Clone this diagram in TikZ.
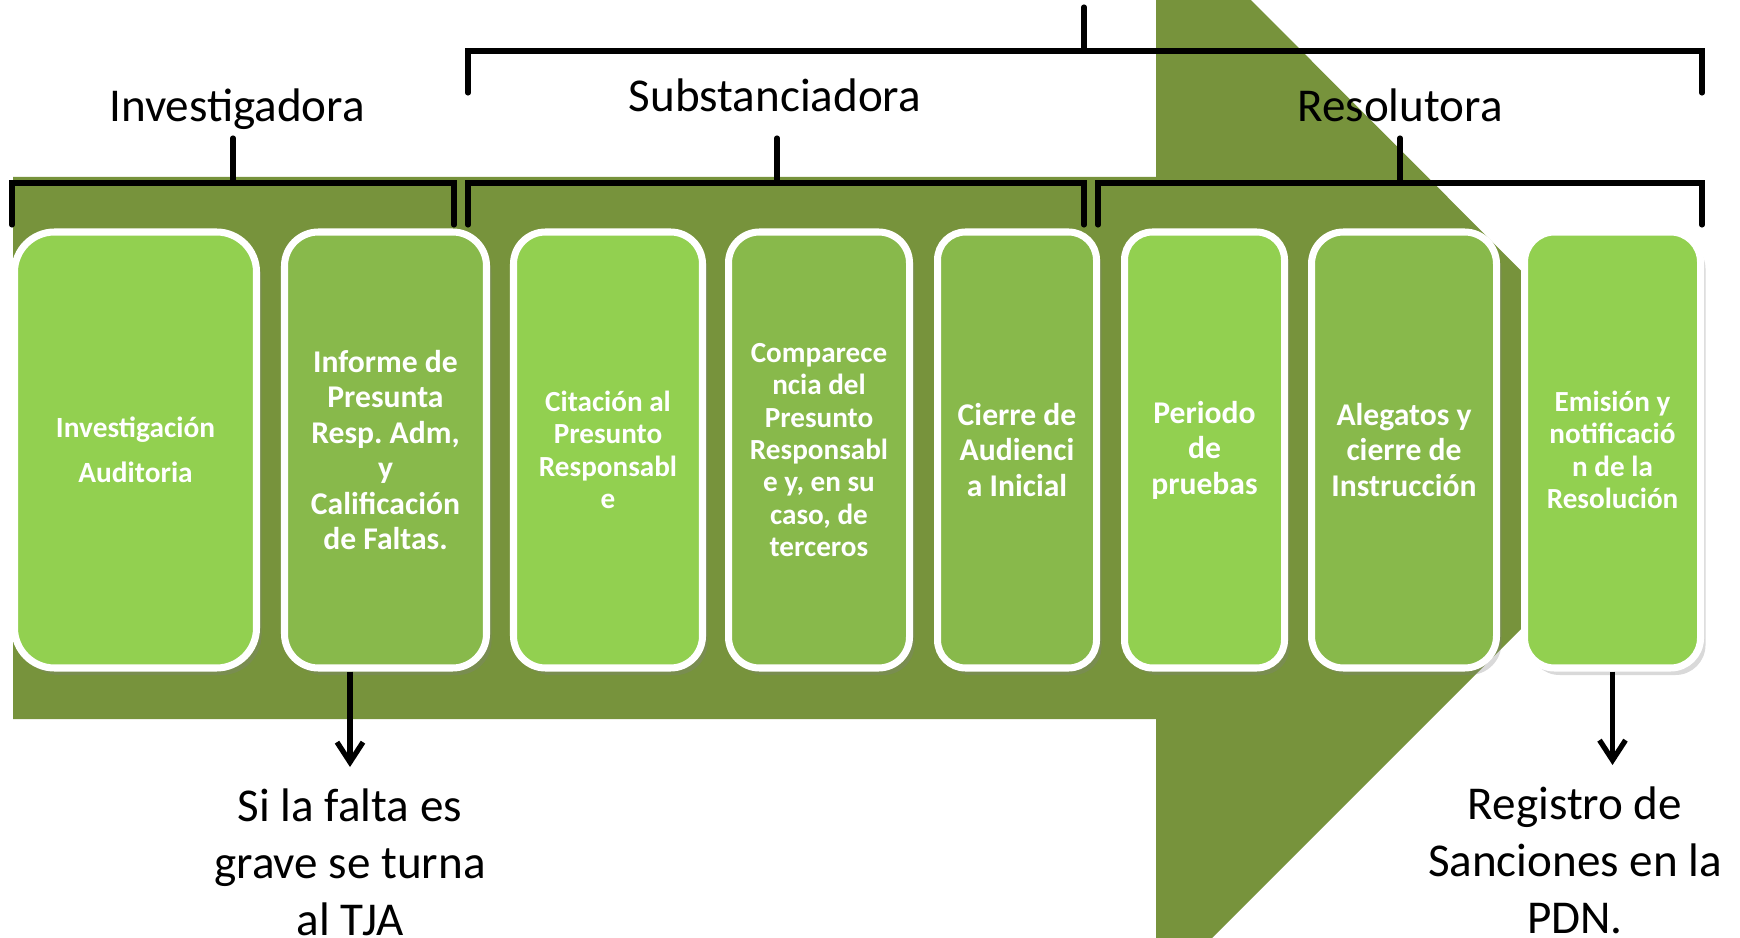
\documentclass[tikz,border=0pt]{standalone}
\usepackage{fontspec}
\setmainfont{Carlito}
\usetikzlibrary{arrows.meta}
\usetikzlibrary{shadows}
\definecolor{arrowgreen}{HTML}{77933C}
\definecolor{lightgreen}{HTML}{92D050}
\definecolor{midgreen}{HTML}{88B94B}
\frenchspacing
\tikzset{stage/.style = {draw=white, line width=2pt, text=white, align=center,
                         font=\bfseries\fontsize{9}{10.1}\selectfont,
                         minimum height=43.6mm, inner sep=0pt,
                         drop shadow={shadow xshift=0.5mm, shadow yshift=-0.7mm, opacity=0.3}}}
\tikzset{small/.style = {font=\bfseries\fontsize{8.3}{9.2}\selectfont}}
\tikzset{brace/.style = {line width=1.45pt, line cap=round}}
\tikzset{heading/.style = {font=\fontsize{13.4}{16.2}\selectfont, inner sep=0pt}}
\tikzset{flow/.style = {line width=1.5pt, -{Straight Barb[length=2mm, width=2.6mm, line width=1.5pt]}}}

\begin{document}
\begin{tikzpicture}[x=0.1mm, y=-0.1mm]
			\useasboundingbox (0,0) rectangle (1740,938);
			% big arrow behind everything
			\begin{scope}
				\clip (0,0) rectangle (1740,938);
				\fill [arrowgreen] (13,177) -- (1156,177) -- (1156,-95) -- (1700,450)
					-- (1156,994) -- (1156,719) -- (13,719) -- cycle;
			\end{scope}
			% stages
			\node [stage, fill=lightgreen, minimum width=24.2mm, rounded corners=4mm,
				font=\bfseries\fontsize{8.35}{12.8}\selectfont] (inv) at (135.5,450) {Investigación\\Auditoria};
			\node [stage, fill=midgreen, minimum width=20.2mm, rounded corners=3.4mm] (inf) at (385.5,450)
				{Informe de\\Presunta\\Resp. Adm,\\y\\Calificación\\de Faltas.};
			\node [stage, small, fill=lightgreen, minimum width=18.9mm, rounded corners=3.2mm] (cit) at (608,450)
				{Citación al\\Presunto\\Responsabl\\e};
			\node [stage, small, fill=midgreen, minimum width=18.1mm, rounded corners=3.1mm] (com) at (819,450)
				{Comparece\\ncia del\\Presunto\\Responsabl\\e y, en su\\caso, de\\terceros};
			\node [stage, fill=midgreen, minimum width=15.9mm, rounded corners=2.8mm] (cie) at (1017,450)
				{Cierre de\\Audienci\\a Inicial};
			\node [stage, fill=lightgreen, minimum width=16mm, rounded corners=2.8mm] (per) at (1204.5,450)
				{Periodo\\de\\pruebas};
			\node [stage, fill=midgreen, minimum width=18.5mm, rounded corners=3.2mm] (ale) at (1404,450)
				{Alegatos y\\cierre de\\Instrucción};
			\node [stage, small, fill=lightgreen, minimum width=17.6mm, rounded corners=3mm] (emi) at (1612.5,450)
				{Emisión y\\notificació\\n de la\\Resolución};
			% headings
			\node [heading, anchor=base] (hinv) at (237,122) {Investigadora};
			\node [heading, anchor=base] (hsub) at (775,112) {Substanciadora};
			\node [heading, anchor=base] (hres) at (1400,122) {Resolutora};
			% bracket points
			\coordinate (1) at (12,225);
			\coordinate (2) at (12,183);
			\coordinate (3) at (454,183);
			\coordinate (4) at (454,225);
			\coordinate (5) at (233,138);
			\coordinate (6) at (233,183);
			\coordinate (7) at (468,225);
			\coordinate (8) at (468,183);
			\coordinate (9) at (1084,183);
			\coordinate (10) at (1084,225);
			\coordinate (11) at (777,138);
			\coordinate (12) at (777,183);
			\coordinate (13) at (1098,225);
			\coordinate (14) at (1098,183);
			\coordinate (15) at (1702,183);
			\coordinate (16) at (1702,225);
			\coordinate (17) at (1400,138);
			\coordinate (18) at (1400,183);
			\coordinate (19) at (468,93);
			\coordinate (20) at (468,51);
			\coordinate (21) at (1702,51);
			\coordinate (22) at (1702,93);
			\coordinate (23) at (1084,7);
			\coordinate (24) at (1084,51);
			\draw [brace] (1) -- (2) -- (3) -- (4);
			\draw [brace] (5) to (6);
			\draw [brace] (7) -- (8) -- (9) -- (10);
			\draw [brace] (11) to (12);
			\draw [brace] (13) -- (14) -- (15) -- (16);
			\draw [brace] (17) to (18);
			\draw [brace] (19) -- (20) -- (21) -- (22);
			\draw [brace] (23) to (24);
			% outcomes
			\node [heading, align=center, anchor=north] (tja) at (350,788) {Si la falta es\\grave se turna\\al TJA};
			\node [heading, align=center, anchor=north] (pdn) at (1575,786) {Registro de\\Sanciones en la\\PDN.};
			\draw [flow, shorten >=2.1mm] (inf.south -| tja.north) to (tja.north);
			\draw [flow, shorten >=2.1mm] (emi.south) to (emi.south |- pdn.north);
		\end{tikzpicture}
\end{document}
